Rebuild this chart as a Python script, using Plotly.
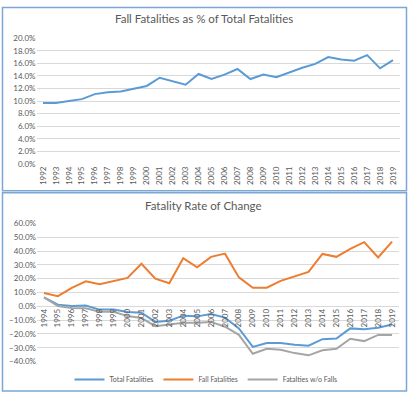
import plotly.graph_objects as go

years_top = list(range(1992, 2020))
fall_share = [9.7, 9.7, 10.0, 10.3, 11.1, 11.4, 11.5, 11.9, 12.4, 13.7,
              13.1, 12.6, 14.3, 13.5, 14.2, 15.1, 13.5, 14.2, 13.8, 14.6,
              15.3, 15.9, 17.0, 16.6, 16.4, 17.3, 15.2, 16.5]

years_bot = list(range(1994, 2020))
total_chg = [6.4, 1.2, 0.2, 0.5, -2.4, -2.4, -4.2, -4.7, -11.3, -10.4,
             -6.8, -7.3, -5.6, -8.2, -16.0, -29.4, -26.6, -26.6, -27.8, -28.5,
             -23.8, -23.3, -16.0, -16.7, -15.5, -13.2]
fall_chg = [9.6, 7.3, 13.4, 18.1, 16.0, 18.4, 20.5, 30.8, 20.0, 16.7,
            34.8, 28.2, 35.8, 38.1, 20.9, 13.4, 13.4, 18.4, 21.9, 24.9,
            37.9, 35.8, 41.6, 46.4, 35.3, 46.8]
nofall_chg = [6.4, 0.2, -1.2, -1.4, -4.0, -4.0, -7.1, -8.5, -14.4, -13.2,
              -12.0, -12.0, -11.3, -14.8, -20.7, -34.4, -30.8, -31.5, -33.9, -35.5,
              -31.8, -30.8, -23.5, -25.2, -20.7, -20.7]

BLUE, ORANGE, GRAY = "#5b9bd5", "#ed7d31", "#a5a5a5"
TXT = "#595959"
FONT = "Lato"

fig = go.Figure()
fig.add_trace(go.Scatter(x=years_top, y=fall_share, mode="lines",
                         line=dict(color=BLUE, width=2), showlegend=False,
                         xaxis="x", yaxis="y"))
fig.add_trace(go.Scatter(x=years_bot, y=total_chg, mode="lines", name="Total Fatalities",
                         line=dict(color=BLUE, width=2), xaxis="x2", yaxis="y2"))
fig.add_trace(go.Scatter(x=years_bot, y=fall_chg, mode="lines", name="Fall Fatalities",
                         line=dict(color=ORANGE, width=2), xaxis="x2", yaxis="y2"))
fig.add_trace(go.Scatter(x=years_bot, y=nofall_chg, mode="lines", name="Fatalties w/o Falls",
                         line=dict(color=GRAY, width=2), xaxis="x2", yaxis="y2"))

tickfont = dict(family=FONT, size=8, color=TXT)
fig.update_layout(
    width=412, height=400, margin=dict(l=0, r=0, t=0, b=0),
    paper_bgcolor="white", plot_bgcolor="white",
    font=dict(family=FONT, color=TXT),
    xaxis=dict(domain=[0.0886, 0.9697], range=[1991.5, 2019.5], tickvals=years_top,
               tickangle=-90, tickfont=tickfont, showgrid=False, showline=False,
               ticks="", zeroline=False, anchor="y"),
    yaxis=dict(domain=[0.5925, 0.915], range=[0, 20], dtick=2, ticksuffix="%",
               tickformat=".1f", tickfont=tickfont, gridcolor="#d9d9d9", gridwidth=1,
               zeroline=False, showline=False, anchor="x"),
    xaxis2=dict(domain=[0.0898, 0.9685], range=[1993.5, 2019.5], tickvals=years_bot,
                tickangle=-90, tickfont=tickfont, showgrid=False, showline=False,
                ticks="", zeroline=False, anchor="free", position=0.2275),
    yaxis2=dict(domain=[0.0858, 0.44], range=[-40, 60], dtick=10, ticksuffix="%",
                tickformat=".1f", tickfont=tickfont, gridcolor="#d9d9d9", gridwidth=1,
                zeroline=False, showline=False, anchor="x2"),
    legend=dict(orientation="h", x=0.5, xanchor="center", y=1 - 384 / 400, yanchor="middle",
                font=dict(family=FONT, size=7, color=TXT), itemwidth=30,
                bgcolor="rgba(0,0,0,0)"),
    annotations=[
        dict(text="Fall Fatalities as % of Total Fatalities", x=0.495, y=1 - 14 / 400,
             xref="paper", yref="paper", xanchor="center", yanchor="middle",
             showarrow=False, font=dict(family=FONT, size=11.5, color=TXT)),
        dict(text="Fatality Rate of Change", x=0.495, y=1 - 206 / 400,
             xref="paper", yref="paper", xanchor="center", yanchor="middle",
             showarrow=False, font=dict(family=FONT, size=11.5, color=TXT)),
    ],
    shapes=[
        dict(type="rect", xref="paper", yref="paper", x0=2.5 / 412, x1=406.5 / 412,
             y0=1 - 190.5 / 400, y1=1 - 2.5 / 400, line=dict(color="#7ba7d6", width=1.5)),
        dict(type="rect", xref="paper", yref="paper", x0=2.5 / 412, x1=406.5 / 412,
             y0=1 - 396 / 400, y1=1 - 192.5 / 400, line=dict(color="#7ba7d6", width=1.5)),
    ],
)

# page body has an 8px default margin; drop it so the figure sits at the corner
fig.write_html("out.html", config={"displayModeBar": False},
               post_script="document.body.style.margin='0';")
